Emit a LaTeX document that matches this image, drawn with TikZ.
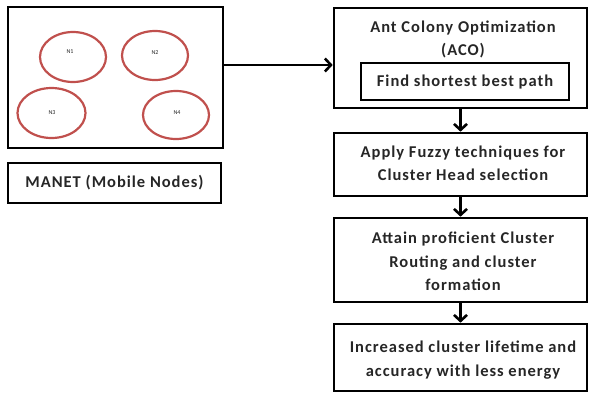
\documentclass[tikz,border=0pt]{standalone}
\usepackage{fontspec}
\setmainfont{Carlito}
\usetikzlibrary{arrows.meta,shapes.geometric}
\definecolor{nodered}{HTML}{C0504D}
\definecolor{txtgray}{HTML}{262626}
\tikzset{
  box/.style={draw=black, line width=2.6pt, inner sep=0pt},
  txt/.style={align=center, text=txtgray, inner sep=0pt, font=\fontsize{16.5}{23.5}\selectfont\bfseries\addfontfeature{LetterSpace=6}},
  mnode/.style={draw=nodered, line width=2.2pt, ellipse, inner sep=0pt},
  nlab/.style={text=txtgray, inner sep=0pt, font=\fontsize{6}{7}\selectfont},
  arr/.style={line width=2.6pt, -{Straight Barb[length=6pt, width=13pt, line width=2.6pt]}}
}
\begin{document}
\begin{tikzpicture}[x=1pt,y=-1pt]
\path[use as bounding box] (0,0) rectangle (590,394);
% left
\node[box, minimum width=215pt, minimum height=141pt] (net) at (115.5,77.5) {};
\node[mnode, minimum width=66pt, minimum height=50pt] (n1) at (73,57) {};
\node[mnode, minimum width=66pt, minimum height=49pt] (n2) at (155,55.5) {};
\node[mnode, minimum width=68pt, minimum height=50pt] (n3) at (51.5,113) {};
\node[mnode, minimum width=66pt, minimum height=48pt] (n4) at (176,115) {};
\node[nlab] (l1) at (70,52) {N1};
\node[nlab] (l2) at (155,53) {N2};
\node[nlab] (l3) at (52,113) {N3};
\node[nlab] (l4) at (177,113) {N4};
\node[box, minimum width=213pt, minimum height=40pt] (manet) at (114.5,183) {};
\node[txt] (manett) at (114.5,183) {MANET (Mobile Nodes)};
% right
\node[box, minimum width=253pt, minimum height=100pt] (aco) at (460.5,58) {};
\node[txt] (acot) at (463,39.5) {Ant Colony Optimization\\(ACO)};
\node[box, minimum width=208pt, minimum height=37pt] (find) at (465,81.5) {};
\node[txt] (findt) at (465,82) {Find shortest best path};
\node[box, minimum width=253pt, minimum height=63pt] (fuzzy) at (460.5,164.5) {};
\node[txt] (fuzzyt) at (463,163.5) {Apply Fuzzy techniques for\\Cluster Head selection};
\node[box, minimum width=253pt, minimum height=84pt] (attain) at (460.5,260) {};
\node[txt] (attaint) at (463,261.5) {Attain proficient Cluster\\Routing and cluster\\formation};
\node[box, minimum width=253pt, minimum height=67pt] (incr) at (460.5,357.5) {};
\node[txt] (incrt) at (463,360) {Increased cluster lifetime and\\accuracy with less energy};
% arrows
\coordinate (ain) at ([yshift=12.5pt]net.east);
\draw[arr] (ain) -- (ain -| aco.west);
\draw[arr] (aco.south) -- (fuzzy.north);
\draw[arr] (fuzzy.south) -- (attain.north);
\draw[arr] (attain.south) -- (incr.north);
\end{tikzpicture}
\end{document}
